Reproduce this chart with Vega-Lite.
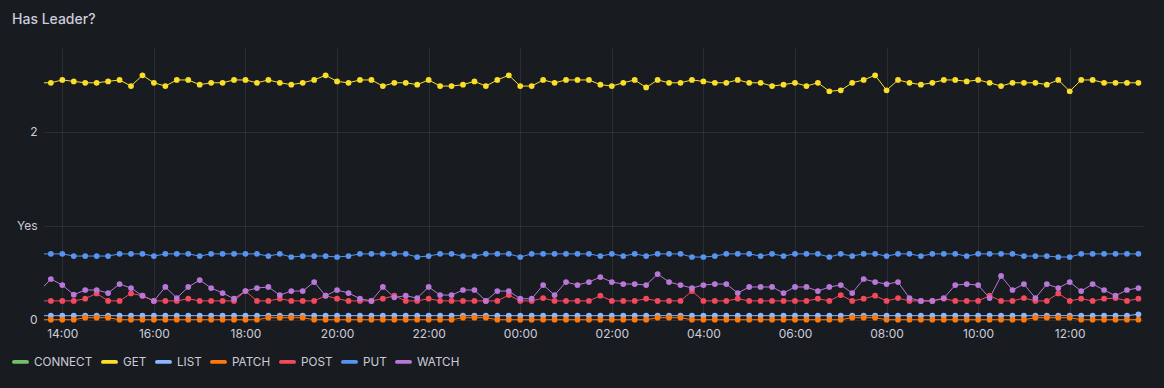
{
"$schema": "https://vega.github.io/schema/vega-lite/v6.json",
"width": 1099, "height": 275,
"autosize": {"type": "none"},
"padding": {"left": 44, "top": 48, "right": 21, "bottom": 65},
"background": "#181b1f",
"title": {"text": "Has Leader?", "anchor": "start", "frame": "group", "dx": -32, "offset": 10, "baseline": "alphabetic", "font": "Inter", "fontSize": 14, "fontWeight": 500, "color": "#ccccdc"},
"config": {"view": {"stroke": null}, "font": "Inter"},
"data": {"values": [
{"t":"2024-01-01T13:30","s":"GET","v":2.52},{"t":"2024-01-01T13:45","s":"GET","v":2.52},{"t":"2024-01-01T14:00","s":"GET","v":2.55},{"t":"2024-01-01T14:15","s":"GET","v":2.535},{"t":"2024-01-01T14:30","s":"GET","v":2.52},{"t":"2024-01-01T14:45","s":"GET","v":2.52},{"t":"2024-01-01T15:00","s":"GET","v":2.535},{"t":"2024-01-01T15:15","s":"GET","v":2.55},{"t":"2024-01-01T15:30","s":"GET","v":2.485},{"t":"2024-01-01T15:45","s":"GET","v":2.6},{"t":"2024-01-01T16:00","s":"GET","v":2.52},{"t":"2024-01-01T16:15","s":"GET","v":2.485},{"t":"2024-01-01T16:30","s":"GET","v":2.55},{"t":"2024-01-01T16:45","s":"GET","v":2.55},{"t":"2024-01-01T17:00","s":"GET","v":2.5},{"t":"2024-01-01T17:15","s":"GET","v":2.52},{"t":"2024-01-01T17:30","s":"GET","v":2.52},{"t":"2024-01-01T17:45","s":"GET","v":2.55},{"t":"2024-01-01T18:00","s":"GET","v":2.55},{"t":"2024-01-01T18:15","s":"GET","v":2.52},{"t":"2024-01-01T18:30","s":"GET","v":2.55},{"t":"2024-01-01T18:45","s":"GET","v":2.52},{"t":"2024-01-01T19:00","s":"GET","v":2.5},{"t":"2024-01-01T19:15","s":"GET","v":2.52},{"t":"2024-01-01T19:30","s":"GET","v":2.55},{"t":"2024-01-01T19:45","s":"GET","v":2.6},{"t":"2024-01-01T20:00","s":"GET","v":2.535},{"t":"2024-01-01T20:15","s":"GET","v":2.52},{"t":"2024-01-01T20:30","s":"GET","v":2.55},{"t":"2024-01-01T20:45","s":"GET","v":2.55},{"t":"2024-01-01T21:00","s":"GET","v":2.485},{"t":"2024-01-01T21:15","s":"GET","v":2.52},{"t":"2024-01-01T21:30","s":"GET","v":2.52},{"t":"2024-01-01T21:45","s":"GET","v":2.5},{"t":"2024-01-01T22:00","s":"GET","v":2.55},{"t":"2024-01-01T22:15","s":"GET","v":2.485},{"t":"2024-01-01T22:30","s":"GET","v":2.485},{"t":"2024-01-01T22:45","s":"GET","v":2.5},{"t":"2024-01-01T23:00","s":"GET","v":2.535},{"t":"2024-01-01T23:15","s":"GET","v":2.485},{"t":"2024-01-01T23:30","s":"GET","v":2.55},{"t":"2024-01-01T23:45","s":"GET","v":2.6},{"t":"2024-01-02T00:00","s":"GET","v":2.485},{"t":"2024-01-02T00:15","s":"GET","v":2.485},{"t":"2024-01-02T00:30","s":"GET","v":2.55},{"t":"2024-01-02T00:45","s":"GET","v":2.52},{"t":"2024-01-02T01:00","s":"GET","v":2.55},{"t":"2024-01-02T01:15","s":"GET","v":2.55},{"t":"2024-01-02T01:30","s":"GET","v":2.55},{"t":"2024-01-02T01:45","s":"GET","v":2.5},{"t":"2024-01-02T02:00","s":"GET","v":2.485},{"t":"2024-01-02T02:15","s":"GET","v":2.52},{"t":"2024-01-02T02:30","s":"GET","v":2.55},{"t":"2024-01-02T02:45","s":"GET","v":2.47},{"t":"2024-01-02T03:00","s":"GET","v":2.55},{"t":"2024-01-02T03:15","s":"GET","v":2.52},{"t":"2024-01-02T03:30","s":"GET","v":2.52},{"t":"2024-01-02T03:45","s":"GET","v":2.55},{"t":"2024-01-02T04:00","s":"GET","v":2.535},{"t":"2024-01-02T04:15","s":"GET","v":2.52},{"t":"2024-01-02T04:30","s":"GET","v":2.52},{"t":"2024-01-02T04:45","s":"GET","v":2.55},{"t":"2024-01-02T05:00","s":"GET","v":2.52},{"t":"2024-01-02T05:15","s":"GET","v":2.52},{"t":"2024-01-02T05:30","s":"GET","v":2.485},{"t":"2024-01-02T05:45","s":"GET","v":2.5},{"t":"2024-01-02T06:00","s":"GET","v":2.52},{"t":"2024-01-02T06:15","s":"GET","v":2.485},{"t":"2024-01-02T06:30","s":"GET","v":2.52},{"t":"2024-01-02T06:45","s":"GET","v":2.43},{"t":"2024-01-02T07:00","s":"GET","v":2.44},{"t":"2024-01-02T07:15","s":"GET","v":2.52},{"t":"2024-01-02T07:30","s":"GET","v":2.55},{"t":"2024-01-02T07:45","s":"GET","v":2.6},{"t":"2024-01-02T08:00","s":"GET","v":2.44},{"t":"2024-01-02T08:15","s":"GET","v":2.55},{"t":"2024-01-02T08:30","s":"GET","v":2.52},{"t":"2024-01-02T08:45","s":"GET","v":2.5},{"t":"2024-01-02T09:00","s":"GET","v":2.52},{"t":"2024-01-02T09:15","s":"GET","v":2.55},{"t":"2024-01-02T09:30","s":"GET","v":2.55},{"t":"2024-01-02T09:45","s":"GET","v":2.535},{"t":"2024-01-02T10:00","s":"GET","v":2.55},{"t":"2024-01-02T10:15","s":"GET","v":2.52},{"t":"2024-01-02T10:30","s":"GET","v":2.485},{"t":"2024-01-02T10:45","s":"GET","v":2.52},{"t":"2024-01-02T11:00","s":"GET","v":2.52},{"t":"2024-01-02T11:15","s":"GET","v":2.52},{"t":"2024-01-02T11:30","s":"GET","v":2.5},{"t":"2024-01-02T11:45","s":"GET","v":2.55},{"t":"2024-01-02T12:00","s":"GET","v":2.43},{"t":"2024-01-02T12:15","s":"GET","v":2.55},{"t":"2024-01-02T12:30","s":"GET","v":2.55},{"t":"2024-01-02T12:45","s":"GET","v":2.52},{"t":"2024-01-02T13:00","s":"GET","v":2.52},{"t":"2024-01-02T13:15","s":"GET","v":2.52},{"t":"2024-01-02T13:30","s":"GET","v":2.52},
{"t":"2024-01-01T13:30","s":"LIST","v":0.043},{"t":"2024-01-01T13:45","s":"LIST","v":0.043},{"t":"2024-01-01T14:00","s":"LIST","v":0.043},{"t":"2024-01-01T14:15","s":"LIST","v":0.043},{"t":"2024-01-01T14:30","s":"LIST","v":0.043},{"t":"2024-01-01T14:45","s":"LIST","v":0.043},{"t":"2024-01-01T15:00","s":"LIST","v":0.043},{"t":"2024-01-01T15:15","s":"LIST","v":0.043},{"t":"2024-01-01T15:30","s":"LIST","v":0.043},{"t":"2024-01-01T15:45","s":"LIST","v":0.043},{"t":"2024-01-01T16:00","s":"LIST","v":0.043},{"t":"2024-01-01T16:15","s":"LIST","v":0.043},{"t":"2024-01-01T16:30","s":"LIST","v":0.043},{"t":"2024-01-01T16:45","s":"LIST","v":0.043},{"t":"2024-01-01T17:00","s":"LIST","v":0.043},{"t":"2024-01-01T17:15","s":"LIST","v":0.043},{"t":"2024-01-01T17:30","s":"LIST","v":0.043},{"t":"2024-01-01T17:45","s":"LIST","v":0.043},{"t":"2024-01-01T18:00","s":"LIST","v":0.043},{"t":"2024-01-01T18:15","s":"LIST","v":0.043},{"t":"2024-01-01T18:30","s":"LIST","v":0.043},{"t":"2024-01-01T18:45","s":"LIST","v":0.043},{"t":"2024-01-01T19:00","s":"LIST","v":0.043},{"t":"2024-01-01T19:15","s":"LIST","v":0.043},{"t":"2024-01-01T19:30","s":"LIST","v":0.043},{"t":"2024-01-01T19:45","s":"LIST","v":0.043},{"t":"2024-01-01T20:00","s":"LIST","v":0.043},{"t":"2024-01-01T20:15","s":"LIST","v":0.043},{"t":"2024-01-01T20:30","s":"LIST","v":0.043},{"t":"2024-01-01T20:45","s":"LIST","v":0.043},{"t":"2024-01-01T21:00","s":"LIST","v":0.043},{"t":"2024-01-01T21:15","s":"LIST","v":0.043},{"t":"2024-01-01T21:30","s":"LIST","v":0.043},{"t":"2024-01-01T21:45","s":"LIST","v":0.043},{"t":"2024-01-01T22:00","s":"LIST","v":0.043},{"t":"2024-01-01T22:15","s":"LIST","v":0.043},{"t":"2024-01-01T22:30","s":"LIST","v":0.043},{"t":"2024-01-01T22:45","s":"LIST","v":0.043},{"t":"2024-01-01T23:00","s":"LIST","v":0.043},{"t":"2024-01-01T23:15","s":"LIST","v":0.043},{"t":"2024-01-01T23:30","s":"LIST","v":0.043},{"t":"2024-01-01T23:45","s":"LIST","v":0.043},{"t":"2024-01-02T00:00","s":"LIST","v":0.043},{"t":"2024-01-02T00:15","s":"LIST","v":0.043},{"t":"2024-01-02T00:30","s":"LIST","v":0.043},{"t":"2024-01-02T00:45","s":"LIST","v":0.043},{"t":"2024-01-02T01:00","s":"LIST","v":0.043},{"t":"2024-01-02T01:15","s":"LIST","v":0.043},{"t":"2024-01-02T01:30","s":"LIST","v":0.043},{"t":"2024-01-02T01:45","s":"LIST","v":0.043},{"t":"2024-01-02T02:00","s":"LIST","v":0.043},{"t":"2024-01-02T02:15","s":"LIST","v":0.043},{"t":"2024-01-02T02:30","s":"LIST","v":0.043},{"t":"2024-01-02T02:45","s":"LIST","v":0.043},{"t":"2024-01-02T03:00","s":"LIST","v":0.043},{"t":"2024-01-02T03:15","s":"LIST","v":0.043},{"t":"2024-01-02T03:30","s":"LIST","v":0.043},{"t":"2024-01-02T03:45","s":"LIST","v":0.043},{"t":"2024-01-02T04:00","s":"LIST","v":0.043},{"t":"2024-01-02T04:15","s":"LIST","v":0.043},{"t":"2024-01-02T04:30","s":"LIST","v":0.043},{"t":"2024-01-02T04:45","s":"LIST","v":0.043},{"t":"2024-01-02T05:00","s":"LIST","v":0.043},{"t":"2024-01-02T05:15","s":"LIST","v":0.043},{"t":"2024-01-02T05:30","s":"LIST","v":0.043},{"t":"2024-01-02T05:45","s":"LIST","v":0.043},{"t":"2024-01-02T06:00","s":"LIST","v":0.043},{"t":"2024-01-02T06:15","s":"LIST","v":0.043},{"t":"2024-01-02T06:30","s":"LIST","v":0.043},{"t":"2024-01-02T06:45","s":"LIST","v":0.043},{"t":"2024-01-02T07:00","s":"LIST","v":0.043},{"t":"2024-01-02T07:15","s":"LIST","v":0.043},{"t":"2024-01-02T07:30","s":"LIST","v":0.043},{"t":"2024-01-02T07:45","s":"LIST","v":0.043},{"t":"2024-01-02T08:00","s":"LIST","v":0.043},{"t":"2024-01-02T08:15","s":"LIST","v":0.043},{"t":"2024-01-02T08:30","s":"LIST","v":0.043},{"t":"2024-01-02T08:45","s":"LIST","v":0.043},{"t":"2024-01-02T09:00","s":"LIST","v":0.043},{"t":"2024-01-02T09:15","s":"LIST","v":0.043},{"t":"2024-01-02T09:30","s":"LIST","v":0.043},{"t":"2024-01-02T09:45","s":"LIST","v":0.043},{"t":"2024-01-02T10:00","s":"LIST","v":0.043},{"t":"2024-01-02T10:15","s":"LIST","v":0.043},{"t":"2024-01-02T10:30","s":"LIST","v":0.043},{"t":"2024-01-02T10:45","s":"LIST","v":0.043},{"t":"2024-01-02T11:00","s":"LIST","v":0.043},{"t":"2024-01-02T11:15","s":"LIST","v":0.043},{"t":"2024-01-02T11:30","s":"LIST","v":0.043},{"t":"2024-01-02T11:45","s":"LIST","v":0.043},{"t":"2024-01-02T12:00","s":"LIST","v":0.043},{"t":"2024-01-02T12:15","s":"LIST","v":0.043},{"t":"2024-01-02T12:30","s":"LIST","v":0.043},{"t":"2024-01-02T12:45","s":"LIST","v":0.043},{"t":"2024-01-02T13:00","s":"LIST","v":0.043},{"t":"2024-01-02T13:15","s":"LIST","v":0.043},{"t":"2024-01-02T13:30","s":"LIST","v":0.057},
{"t":"2024-01-01T13:30","s":"PATCH","v":0},{"t":"2024-01-01T13:45","s":"PATCH","v":0},{"t":"2024-01-01T14:00","s":"PATCH","v":0},{"t":"2024-01-01T14:15","s":"PATCH","v":0},{"t":"2024-01-01T14:30","s":"PATCH","v":0.021},{"t":"2024-01-01T14:45","s":"PATCH","v":0.021},{"t":"2024-01-01T15:00","s":"PATCH","v":0.021},{"t":"2024-01-01T15:15","s":"PATCH","v":0},{"t":"2024-01-01T15:30","s":"PATCH","v":0},{"t":"2024-01-01T15:45","s":"PATCH","v":0},{"t":"2024-01-01T16:00","s":"PATCH","v":0},{"t":"2024-01-01T16:15","s":"PATCH","v":0},{"t":"2024-01-01T16:30","s":"PATCH","v":0},{"t":"2024-01-01T16:45","s":"PATCH","v":0},{"t":"2024-01-01T17:00","s":"PATCH","v":0},{"t":"2024-01-01T17:15","s":"PATCH","v":0},{"t":"2024-01-01T17:30","s":"PATCH","v":0},{"t":"2024-01-01T17:45","s":"PATCH","v":0},{"t":"2024-01-01T18:00","s":"PATCH","v":0},{"t":"2024-01-01T18:15","s":"PATCH","v":0},{"t":"2024-01-01T18:30","s":"PATCH","v":0.021},{"t":"2024-01-01T18:45","s":"PATCH","v":0.021},{"t":"2024-01-01T19:00","s":"PATCH","v":0.021},{"t":"2024-01-01T19:15","s":"PATCH","v":0.021},{"t":"2024-01-01T19:30","s":"PATCH","v":0},{"t":"2024-01-01T19:45","s":"PATCH","v":0},{"t":"2024-01-01T20:00","s":"PATCH","v":0},{"t":"2024-01-01T20:15","s":"PATCH","v":0},{"t":"2024-01-01T20:30","s":"PATCH","v":0},{"t":"2024-01-01T20:45","s":"PATCH","v":0},{"t":"2024-01-01T21:00","s":"PATCH","v":0},{"t":"2024-01-01T21:15","s":"PATCH","v":0},{"t":"2024-01-01T21:30","s":"PATCH","v":0},{"t":"2024-01-01T21:45","s":"PATCH","v":0},{"t":"2024-01-01T22:00","s":"PATCH","v":0},{"t":"2024-01-01T22:15","s":"PATCH","v":0},{"t":"2024-01-01T22:30","s":"PATCH","v":0},{"t":"2024-01-01T22:45","s":"PATCH","v":0.021},{"t":"2024-01-01T23:00","s":"PATCH","v":0.021},{"t":"2024-01-01T23:15","s":"PATCH","v":0.021},{"t":"2024-01-01T23:30","s":"PATCH","v":0},{"t":"2024-01-01T23:45","s":"PATCH","v":0},{"t":"2024-01-02T00:00","s":"PATCH","v":0},{"t":"2024-01-02T00:15","s":"PATCH","v":0},{"t":"2024-01-02T00:30","s":"PATCH","v":0},{"t":"2024-01-02T00:45","s":"PATCH","v":0},{"t":"2024-01-02T01:00","s":"PATCH","v":0},{"t":"2024-01-02T01:15","s":"PATCH","v":0},{"t":"2024-01-02T01:30","s":"PATCH","v":0},{"t":"2024-01-02T01:45","s":"PATCH","v":0},{"t":"2024-01-02T02:00","s":"PATCH","v":0},{"t":"2024-01-02T02:15","s":"PATCH","v":0},{"t":"2024-01-02T02:30","s":"PATCH","v":0},{"t":"2024-01-02T02:45","s":"PATCH","v":0},{"t":"2024-01-02T03:00","s":"PATCH","v":0.021},{"t":"2024-01-02T03:15","s":"PATCH","v":0.021},{"t":"2024-01-02T03:30","s":"PATCH","v":0.021},{"t":"2024-01-02T03:45","s":"PATCH","v":0},{"t":"2024-01-02T04:00","s":"PATCH","v":0},{"t":"2024-01-02T04:15","s":"PATCH","v":0},{"t":"2024-01-02T04:30","s":"PATCH","v":0},{"t":"2024-01-02T04:45","s":"PATCH","v":0},{"t":"2024-01-02T05:00","s":"PATCH","v":0},{"t":"2024-01-02T05:15","s":"PATCH","v":0},{"t":"2024-01-02T05:30","s":"PATCH","v":0},{"t":"2024-01-02T05:45","s":"PATCH","v":0},{"t":"2024-01-02T06:00","s":"PATCH","v":0},{"t":"2024-01-02T06:15","s":"PATCH","v":0},{"t":"2024-01-02T06:30","s":"PATCH","v":0},{"t":"2024-01-02T06:45","s":"PATCH","v":0},{"t":"2024-01-02T07:00","s":"PATCH","v":0},{"t":"2024-01-02T07:15","s":"PATCH","v":0.021},{"t":"2024-01-02T07:30","s":"PATCH","v":0.021},{"t":"2024-01-02T07:45","s":"PATCH","v":0.021},{"t":"2024-01-02T08:00","s":"PATCH","v":0},{"t":"2024-01-02T08:15","s":"PATCH","v":0},{"t":"2024-01-02T08:30","s":"PATCH","v":0},{"t":"2024-01-02T08:45","s":"PATCH","v":0},{"t":"2024-01-02T09:00","s":"PATCH","v":0},{"t":"2024-01-02T09:15","s":"PATCH","v":0},{"t":"2024-01-02T09:30","s":"PATCH","v":0},{"t":"2024-01-02T09:45","s":"PATCH","v":0},{"t":"2024-01-02T10:00","s":"PATCH","v":0},{"t":"2024-01-02T10:15","s":"PATCH","v":0},{"t":"2024-01-02T10:30","s":"PATCH","v":0},{"t":"2024-01-02T10:45","s":"PATCH","v":0},{"t":"2024-01-02T11:00","s":"PATCH","v":0},{"t":"2024-01-02T11:15","s":"PATCH","v":0.021},{"t":"2024-01-02T11:30","s":"PATCH","v":0.021},{"t":"2024-01-02T11:45","s":"PATCH","v":0.021},{"t":"2024-01-02T12:00","s":"PATCH","v":0.021},{"t":"2024-01-02T12:15","s":"PATCH","v":0},{"t":"2024-01-02T12:30","s":"PATCH","v":0},{"t":"2024-01-02T12:45","s":"PATCH","v":0},{"t":"2024-01-02T13:00","s":"PATCH","v":0},{"t":"2024-01-02T13:15","s":"PATCH","v":0},{"t":"2024-01-02T13:30","s":"PATCH","v":0},
{"t":"2024-01-01T13:30","s":"POST","v":0.2},{"t":"2024-01-01T13:45","s":"POST","v":0.2},{"t":"2024-01-01T14:00","s":"POST","v":0.2},{"t":"2024-01-01T14:15","s":"POST","v":0.2},{"t":"2024-01-01T14:30","s":"POST","v":0.223},{"t":"2024-01-01T14:45","s":"POST","v":0.28},{"t":"2024-01-01T15:00","s":"POST","v":0.2},{"t":"2024-01-01T15:15","s":"POST","v":0.2},{"t":"2024-01-01T15:30","s":"POST","v":0.28},{"t":"2024-01-01T15:45","s":"POST","v":0.255},{"t":"2024-01-01T16:00","s":"POST","v":0.2},{"t":"2024-01-01T16:15","s":"POST","v":0.2},{"t":"2024-01-01T16:30","s":"POST","v":0.2},{"t":"2024-01-01T16:45","s":"POST","v":0.223},{"t":"2024-01-01T17:00","s":"POST","v":0.2},{"t":"2024-01-01T17:15","s":"POST","v":0.2},{"t":"2024-01-01T17:30","s":"POST","v":0.2},{"t":"2024-01-01T17:45","s":"POST","v":0.2},{"t":"2024-01-01T18:00","s":"POST","v":0.305},{"t":"2024-01-01T18:15","s":"POST","v":0.2},{"t":"2024-01-01T18:30","s":"POST","v":0.2},{"t":"2024-01-01T18:45","s":"POST","v":0.223},{"t":"2024-01-01T19:00","s":"POST","v":0.2},{"t":"2024-01-01T19:15","s":"POST","v":0.2},{"t":"2024-01-01T19:30","s":"POST","v":0.2},{"t":"2024-01-01T19:45","s":"POST","v":0.255},{"t":"2024-01-01T20:00","s":"POST","v":0.223},{"t":"2024-01-01T20:15","s":"POST","v":0.2},{"t":"2024-01-01T20:30","s":"POST","v":0.2},{"t":"2024-01-01T20:45","s":"POST","v":0.2},{"t":"2024-01-01T21:00","s":"POST","v":0.223},{"t":"2024-01-01T21:15","s":"POST","v":0.255},{"t":"2024-01-01T21:30","s":"POST","v":0.2},{"t":"2024-01-01T21:45","s":"POST","v":0.2},{"t":"2024-01-01T22:00","s":"POST","v":0.223},{"t":"2024-01-01T22:15","s":"POST","v":0.2},{"t":"2024-01-01T22:30","s":"POST","v":0.2},{"t":"2024-01-01T22:45","s":"POST","v":0.2},{"t":"2024-01-01T23:00","s":"POST","v":0.2},{"t":"2024-01-01T23:15","s":"POST","v":0.2},{"t":"2024-01-01T23:30","s":"POST","v":0.2},{"t":"2024-01-01T23:45","s":"POST","v":0.262},{"t":"2024-01-02T00:00","s":"POST","v":0.2},{"t":"2024-01-02T00:15","s":"POST","v":0.2},{"t":"2024-01-02T00:30","s":"POST","v":0.23},{"t":"2024-01-02T00:45","s":"POST","v":0.2},{"t":"2024-01-02T01:00","s":"POST","v":0.2},{"t":"2024-01-02T01:15","s":"POST","v":0.2},{"t":"2024-01-02T01:30","s":"POST","v":0.2},{"t":"2024-01-02T01:45","s":"POST","v":0.255},{"t":"2024-01-02T02:00","s":"POST","v":0.2},{"t":"2024-01-02T02:15","s":"POST","v":0.2},{"t":"2024-01-02T02:30","s":"POST","v":0.2},{"t":"2024-01-02T02:45","s":"POST","v":0.223},{"t":"2024-01-02T03:00","s":"POST","v":0.2},{"t":"2024-01-02T03:15","s":"POST","v":0.2},{"t":"2024-01-02T03:30","s":"POST","v":0.2},{"t":"2024-01-02T03:45","s":"POST","v":0.305},{"t":"2024-01-02T04:00","s":"POST","v":0.2},{"t":"2024-01-02T04:15","s":"POST","v":0.2},{"t":"2024-01-02T04:30","s":"POST","v":0.2},{"t":"2024-01-02T04:45","s":"POST","v":0.223},{"t":"2024-01-02T05:00","s":"POST","v":0.2},{"t":"2024-01-02T05:15","s":"POST","v":0.2},{"t":"2024-01-02T05:30","s":"POST","v":0.2},{"t":"2024-01-02T05:45","s":"POST","v":0.2},{"t":"2024-01-02T06:00","s":"POST","v":0.2},{"t":"2024-01-02T06:15","s":"POST","v":0.2},{"t":"2024-01-02T06:30","s":"POST","v":0.223},{"t":"2024-01-02T06:45","s":"POST","v":0.2},{"t":"2024-01-02T07:00","s":"POST","v":0.262},{"t":"2024-01-02T07:15","s":"POST","v":0.2},{"t":"2024-01-02T07:30","s":"POST","v":0.223},{"t":"2024-01-02T07:45","s":"POST","v":0.255},{"t":"2024-01-02T08:00","s":"POST","v":0.2},{"t":"2024-01-02T08:15","s":"POST","v":0.23},{"t":"2024-01-02T08:30","s":"POST","v":0.2},{"t":"2024-01-02T08:45","s":"POST","v":0.2},{"t":"2024-01-02T09:00","s":"POST","v":0.2},{"t":"2024-01-02T09:15","s":"POST","v":0.223},{"t":"2024-01-02T09:30","s":"POST","v":0.2},{"t":"2024-01-02T09:45","s":"POST","v":0.2},{"t":"2024-01-02T10:00","s":"POST","v":0.2},{"t":"2024-01-02T10:15","s":"POST","v":0.255},{"t":"2024-01-02T10:30","s":"POST","v":0.2},{"t":"2024-01-02T10:45","s":"POST","v":0.2},{"t":"2024-01-02T11:00","s":"POST","v":0.23},{"t":"2024-01-02T11:15","s":"POST","v":0.2},{"t":"2024-01-02T11:30","s":"POST","v":0.2},{"t":"2024-01-02T11:45","s":"POST","v":0.28},{"t":"2024-01-02T12:00","s":"POST","v":0.2},{"t":"2024-01-02T12:15","s":"POST","v":0.223},{"t":"2024-01-02T12:30","s":"POST","v":0.2},{"t":"2024-01-02T12:45","s":"POST","v":0.223},{"t":"2024-01-02T13:00","s":"POST","v":0.23},{"t":"2024-01-02T13:15","s":"POST","v":0.2},{"t":"2024-01-02T13:30","s":"POST","v":0.223},
{"t":"2024-01-01T13:30","s":"PUT","v":0.7},{"t":"2024-01-01T13:45","s":"PUT","v":0.7},{"t":"2024-01-01T14:00","s":"PUT","v":0.7},{"t":"2024-01-01T14:15","s":"PUT","v":0.677},{"t":"2024-01-01T14:30","s":"PUT","v":0.677},{"t":"2024-01-01T14:45","s":"PUT","v":0.677},{"t":"2024-01-01T15:00","s":"PUT","v":0.677},{"t":"2024-01-01T15:15","s":"PUT","v":0.7},{"t":"2024-01-01T15:30","s":"PUT","v":0.7},{"t":"2024-01-01T15:45","s":"PUT","v":0.7},{"t":"2024-01-01T16:00","s":"PUT","v":0.677},{"t":"2024-01-01T16:15","s":"PUT","v":0.7},{"t":"2024-01-01T16:30","s":"PUT","v":0.7},{"t":"2024-01-01T16:45","s":"PUT","v":0.7},{"t":"2024-01-01T17:00","s":"PUT","v":0.677},{"t":"2024-01-01T17:15","s":"PUT","v":0.7},{"t":"2024-01-01T17:30","s":"PUT","v":0.7},{"t":"2024-01-01T17:45","s":"PUT","v":0.7},{"t":"2024-01-01T18:00","s":"PUT","v":0.7},{"t":"2024-01-01T18:15","s":"PUT","v":0.7},{"t":"2024-01-01T18:30","s":"PUT","v":0.677},{"t":"2024-01-01T18:45","s":"PUT","v":0.7},{"t":"2024-01-01T19:00","s":"PUT","v":0.667},{"t":"2024-01-01T19:15","s":"PUT","v":0.677},{"t":"2024-01-01T19:30","s":"PUT","v":0.677},{"t":"2024-01-01T19:45","s":"PUT","v":0.677},{"t":"2024-01-01T20:00","s":"PUT","v":0.667},{"t":"2024-01-01T20:15","s":"PUT","v":0.677},{"t":"2024-01-01T20:30","s":"PUT","v":0.7},{"t":"2024-01-01T20:45","s":"PUT","v":0.7},{"t":"2024-01-01T21:00","s":"PUT","v":0.7},{"t":"2024-01-01T21:15","s":"PUT","v":0.7},{"t":"2024-01-01T21:30","s":"PUT","v":0.7},{"t":"2024-01-01T21:45","s":"PUT","v":0.667},{"t":"2024-01-01T22:00","s":"PUT","v":0.677},{"t":"2024-01-01T22:15","s":"PUT","v":0.7},{"t":"2024-01-01T22:30","s":"PUT","v":0.7},{"t":"2024-01-01T22:45","s":"PUT","v":0.677},{"t":"2024-01-01T23:00","s":"PUT","v":0.677},{"t":"2024-01-01T23:15","s":"PUT","v":0.7},{"t":"2024-01-01T23:30","s":"PUT","v":0.7},{"t":"2024-01-01T23:45","s":"PUT","v":0.7},{"t":"2024-01-02T00:00","s":"PUT","v":0.667},{"t":"2024-01-02T00:15","s":"PUT","v":0.7},{"t":"2024-01-02T00:30","s":"PUT","v":0.7},{"t":"2024-01-02T00:45","s":"PUT","v":0.7},{"t":"2024-01-02T01:00","s":"PUT","v":0.7},{"t":"2024-01-02T01:15","s":"PUT","v":0.7},{"t":"2024-01-02T01:30","s":"PUT","v":0.7},{"t":"2024-01-02T01:45","s":"PUT","v":0.677},{"t":"2024-01-02T02:00","s":"PUT","v":0.7},{"t":"2024-01-02T02:15","s":"PUT","v":0.677},{"t":"2024-01-02T02:30","s":"PUT","v":0.7},{"t":"2024-01-02T02:45","s":"PUT","v":0.677},{"t":"2024-01-02T03:00","s":"PUT","v":0.7},{"t":"2024-01-02T03:15","s":"PUT","v":0.7},{"t":"2024-01-02T03:30","s":"PUT","v":0.7},{"t":"2024-01-02T03:45","s":"PUT","v":0.667},{"t":"2024-01-02T04:00","s":"PUT","v":0.667},{"t":"2024-01-02T04:15","s":"PUT","v":0.677},{"t":"2024-01-02T04:30","s":"PUT","v":0.7},{"t":"2024-01-02T04:45","s":"PUT","v":0.7},{"t":"2024-01-02T05:00","s":"PUT","v":0.7},{"t":"2024-01-02T05:15","s":"PUT","v":0.677},{"t":"2024-01-02T05:30","s":"PUT","v":0.7},{"t":"2024-01-02T05:45","s":"PUT","v":0.677},{"t":"2024-01-02T06:00","s":"PUT","v":0.7},{"t":"2024-01-02T06:15","s":"PUT","v":0.7},{"t":"2024-01-02T06:30","s":"PUT","v":0.7},{"t":"2024-01-02T06:45","s":"PUT","v":0.667},{"t":"2024-01-02T07:00","s":"PUT","v":0.7},{"t":"2024-01-02T07:15","s":"PUT","v":0.677},{"t":"2024-01-02T07:30","s":"PUT","v":0.7},{"t":"2024-01-02T07:45","s":"PUT","v":0.7},{"t":"2024-01-02T08:00","s":"PUT","v":0.677},{"t":"2024-01-02T08:15","s":"PUT","v":0.7},{"t":"2024-01-02T08:30","s":"PUT","v":0.7},{"t":"2024-01-02T08:45","s":"PUT","v":0.677},{"t":"2024-01-02T09:00","s":"PUT","v":0.7},{"t":"2024-01-02T09:15","s":"PUT","v":0.7},{"t":"2024-01-02T09:30","s":"PUT","v":0.7},{"t":"2024-01-02T09:45","s":"PUT","v":0.677},{"t":"2024-01-02T10:00","s":"PUT","v":0.7},{"t":"2024-01-02T10:15","s":"PUT","v":0.7},{"t":"2024-01-02T10:30","s":"PUT","v":0.7},{"t":"2024-01-02T10:45","s":"PUT","v":0.7},{"t":"2024-01-02T11:00","s":"PUT","v":0.677},{"t":"2024-01-02T11:15","s":"PUT","v":0.677},{"t":"2024-01-02T11:30","s":"PUT","v":0.677},{"t":"2024-01-02T11:45","s":"PUT","v":0.667},{"t":"2024-01-02T12:00","s":"PUT","v":0.667},{"t":"2024-01-02T12:15","s":"PUT","v":0.7},{"t":"2024-01-02T12:30","s":"PUT","v":0.7},{"t":"2024-01-02T12:45","s":"PUT","v":0.7},{"t":"2024-01-02T13:00","s":"PUT","v":0.7},{"t":"2024-01-02T13:15","s":"PUT","v":0.7},{"t":"2024-01-02T13:30","s":"PUT","v":0.7},
{"t":"2024-01-01T13:30","s":"WATCH","v":0.305},{"t":"2024-01-01T13:45","s":"WATCH","v":0.433},{"t":"2024-01-01T14:00","s":"WATCH","v":0.369},{"t":"2024-01-01T14:15","s":"WATCH","v":0.266},{"t":"2024-01-01T14:30","s":"WATCH","v":0.316},{"t":"2024-01-01T14:45","s":"WATCH","v":0.316},{"t":"2024-01-01T15:00","s":"WATCH","v":0.284},{"t":"2024-01-01T15:15","s":"WATCH","v":0.379},{"t":"2024-01-01T15:30","s":"WATCH","v":0.337},{"t":"2024-01-01T15:45","s":"WATCH","v":0.255},{"t":"2024-01-01T16:00","s":"WATCH","v":0.2},{"t":"2024-01-01T16:15","s":"WATCH","v":0.348},{"t":"2024-01-01T16:30","s":"WATCH","v":0.23},{"t":"2024-01-01T16:45","s":"WATCH","v":0.348},{"t":"2024-01-01T17:00","s":"WATCH","v":0.422},{"t":"2024-01-01T17:15","s":"WATCH","v":0.337},{"t":"2024-01-01T17:30","s":"WATCH","v":0.284},{"t":"2024-01-01T17:45","s":"WATCH","v":0.223},{"t":"2024-01-01T18:00","s":"WATCH","v":0.305},{"t":"2024-01-01T18:15","s":"WATCH","v":0.337},{"t":"2024-01-01T18:30","s":"WATCH","v":0.348},{"t":"2024-01-01T18:45","s":"WATCH","v":0.262},{"t":"2024-01-01T19:00","s":"WATCH","v":0.305},{"t":"2024-01-01T19:15","s":"WATCH","v":0.305},{"t":"2024-01-01T19:30","s":"WATCH","v":0.401},{"t":"2024-01-01T19:45","s":"WATCH","v":0.255},{"t":"2024-01-01T20:00","s":"WATCH","v":0.316},{"t":"2024-01-01T20:15","s":"WATCH","v":0.284},{"t":"2024-01-01T20:30","s":"WATCH","v":0.223},{"t":"2024-01-01T20:45","s":"WATCH","v":0.2},{"t":"2024-01-01T21:00","s":"WATCH","v":0.348},{"t":"2024-01-01T21:15","s":"WATCH","v":0.238},{"t":"2024-01-01T21:30","s":"WATCH","v":0.255},{"t":"2024-01-01T21:45","s":"WATCH","v":0.23},{"t":"2024-01-01T22:00","s":"WATCH","v":0.348},{"t":"2024-01-01T22:15","s":"WATCH","v":0.262},{"t":"2024-01-01T22:30","s":"WATCH","v":0.262},{"t":"2024-01-01T22:45","s":"WATCH","v":0.316},{"t":"2024-01-01T23:00","s":"WATCH","v":0.316},{"t":"2024-01-01T23:15","s":"WATCH","v":0.2},{"t":"2024-01-01T23:30","s":"WATCH","v":0.305},{"t":"2024-01-01T23:45","s":"WATCH","v":0.305},{"t":"2024-01-02T00:00","s":"WATCH","v":0.223},{"t":"2024-01-02T00:15","s":"WATCH","v":0.223},{"t":"2024-01-02T00:30","s":"WATCH","v":0.369},{"t":"2024-01-02T00:45","s":"WATCH","v":0.262},{"t":"2024-01-02T01:00","s":"WATCH","v":0.401},{"t":"2024-01-02T01:15","s":"WATCH","v":0.369},{"t":"2024-01-02T01:30","s":"WATCH","v":0.401},{"t":"2024-01-02T01:45","s":"WATCH","v":0.454},{"t":"2024-01-02T02:00","s":"WATCH","v":0.401},{"t":"2024-01-02T02:15","s":"WATCH","v":0.379},{"t":"2024-01-02T02:30","s":"WATCH","v":0.379},{"t":"2024-01-02T02:45","s":"WATCH","v":0.369},{"t":"2024-01-02T03:00","s":"WATCH","v":0.486},{"t":"2024-01-02T03:15","s":"WATCH","v":0.401},{"t":"2024-01-02T03:30","s":"WATCH","v":0.369},{"t":"2024-01-02T03:45","s":"WATCH","v":0.337},{"t":"2024-01-02T04:00","s":"WATCH","v":0.369},{"t":"2024-01-02T04:15","s":"WATCH","v":0.379},{"t":"2024-01-02T04:30","s":"WATCH","v":0.379},{"t":"2024-01-02T04:45","s":"WATCH","v":0.284},{"t":"2024-01-02T05:00","s":"WATCH","v":0.348},{"t":"2024-01-02T05:15","s":"WATCH","v":0.348},{"t":"2024-01-02T05:30","s":"WATCH","v":0.348},{"t":"2024-01-02T05:45","s":"WATCH","v":0.284},{"t":"2024-01-02T06:00","s":"WATCH","v":0.348},{"t":"2024-01-02T06:15","s":"WATCH","v":0.348},{"t":"2024-01-02T06:30","s":"WATCH","v":0.305},{"t":"2024-01-02T06:45","s":"WATCH","v":0.348},{"t":"2024-01-02T07:00","s":"WATCH","v":0.369},{"t":"2024-01-02T07:15","s":"WATCH","v":0.284},{"t":"2024-01-02T07:30","s":"WATCH","v":0.433},{"t":"2024-01-02T07:45","s":"WATCH","v":0.401},{"t":"2024-01-02T08:00","s":"WATCH","v":0.379},{"t":"2024-01-02T08:15","s":"WATCH","v":0.401},{"t":"2024-01-02T08:30","s":"WATCH","v":0.23},{"t":"2024-01-02T08:45","s":"WATCH","v":0.2},{"t":"2024-01-02T09:00","s":"WATCH","v":0.2},{"t":"2024-01-02T09:15","s":"WATCH","v":0.23},{"t":"2024-01-02T09:30","s":"WATCH","v":0.369},{"t":"2024-01-02T09:45","s":"WATCH","v":0.379},{"t":"2024-01-02T10:00","s":"WATCH","v":0.369},{"t":"2024-01-02T10:15","s":"WATCH","v":0.23},{"t":"2024-01-02T10:30","s":"WATCH","v":0.465},{"t":"2024-01-02T10:45","s":"WATCH","v":0.316},{"t":"2024-01-02T11:00","s":"WATCH","v":0.379},{"t":"2024-01-02T11:15","s":"WATCH","v":0.23},{"t":"2024-01-02T11:30","s":"WATCH","v":0.379},{"t":"2024-01-02T11:45","s":"WATCH","v":0.337},{"t":"2024-01-02T12:00","s":"WATCH","v":0.401},{"t":"2024-01-02T12:15","s":"WATCH","v":0.305},{"t":"2024-01-02T12:30","s":"WATCH","v":0.379},{"t":"2024-01-02T12:45","s":"WATCH","v":0.316},{"t":"2024-01-02T13:00","s":"WATCH","v":0.255},{"t":"2024-01-02T13:15","s":"WATCH","v":0.316},{"t":"2024-01-02T13:30","s":"WATCH","v":0.337}
]},
"encoding": {
  "x": {"field": "t", "type": "temporal",
    "scale": {"domain": [{"year": 2024, "month": 1, "date": 1, "hours": 13, "minutes": 36}, {"year": 2024, "month": 1, "date": 2, "hours": 13, "minutes": 36}]},
    "axis": {"title": null, "format": "%H:%M",
      "values": [{"year": 2024, "month": 1, "date": 1, "hours": 14}, {"year": 2024, "month": 1, "date": 1, "hours": 16}, {"year": 2024, "month": 1, "date": 1, "hours": 18}, {"year": 2024, "month": 1, "date": 1, "hours": 20}, {"year": 2024, "month": 1, "date": 1, "hours": 22}, {"year": 2024, "month": 1, "date": 2, "hours": 0}, {"year": 2024, "month": 1, "date": 2, "hours": 2}, {"year": 2024, "month": 1, "date": 2, "hours": 4}, {"year": 2024, "month": 1, "date": 2, "hours": 6}, {"year": 2024, "month": 1, "date": 2, "hours": 8}, {"year": 2024, "month": 1, "date": 2, "hours": 10}, {"year": 2024, "month": 1, "date": 2, "hours": 12}],
      "ticks": false, "domain": false, "labelColor": "#ccccdc", "labelFont": "Inter", "labelFontSize": 12, "labelPadding": 5, "labelFlush": false, "gridColor": "#ccccdc", "gridOpacity": 0.1}},
  "y": {"field": "v", "type": "quantitative",
    "scale": {"domain": [-0.035, 2.89], "nice": false, "zero": false},
    "axis": {"title": null, "values": [0, 1, 2], "labelExpr": "datum.value == 1 ? 'Yes' : datum.label", "ticks": false, "domain": false, "labelColor": "#ccccdc", "labelFont": "Inter", "labelFontSize": 12, "labelPadding": 7, "gridColor": "#ccccdc", "gridOpacity": 0.1}},
  "color": {"field": "s", "type": "nominal",
    "scale": {"domain": ["CONNECT", "GET", "LIST", "PATCH", "POST", "PUT", "WATCH"], "range": ["#73BF69", "#FADE2A", "#8AB8FF", "#FF780A", "#F2495C", "#5794F2", "#B877D9"]},
    "legend": {"title": null, "orient": "none", "legendX": -30, "legendY": 307, "direction": "horizontal", "values": ["CONNECT", "GET", "LIST", "PATCH", "POST", "PUT", "WATCH"], "symbolType": "M-1,-0.3L1,-0.3A0.3,0.3 0 0 1 1,0.3L-1,0.3A0.3,0.3 0 0 1 -1,-0.3Z", "symbolSize": 169, "symbolStrokeWidth": 0, "labelColor": "#ccccdc", "labelFont": "Inter", "labelFontSize": 11.7, "labelOffset": 7, "columnPadding": 8}}
},
"layer": [
  {"mark": {"type": "line", "strokeWidth": 1, "clip": true}},
  {"mark": {"type": "point", "filled": true, "size": 33, "opacity": 1, "clip": true}}
]
}
